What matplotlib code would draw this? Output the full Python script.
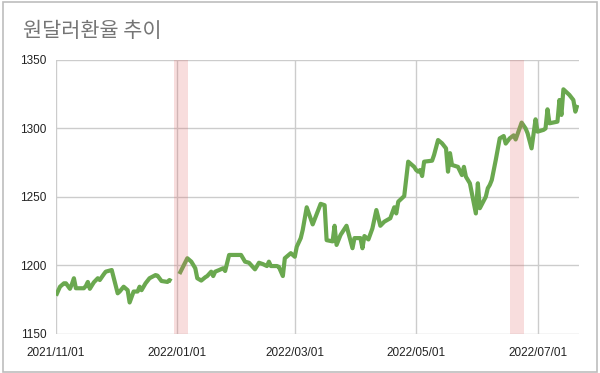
import matplotlib
matplotlib.use("Agg")
import matplotlib.pyplot as plt
import matplotlib.dates as mdates
import numpy as np
import pandas as pd
from matplotlib.patches import Rectangle

title = "원달러환율 추이"

dates = [
    "2021-11-01", "2021-11-03", "2021-11-05", "2021-11-06", "2021-11-08", "2021-11-09",
    "2021-11-10", "2021-11-11", "2021-11-15", "2021-11-16", "2021-11-17", "2021-11-18",
    "2021-11-20", "2021-11-22", "2021-11-23", "2021-11-25", "2021-11-26", "2021-11-29",
    "2021-12-02", "2021-12-03", "2021-12-05", "2021-12-07", "2021-12-08", "2021-12-10",
    "2021-12-12", "2021-12-13", "2021-12-14", "2021-12-16", "2021-12-18", "2021-12-21",
    "2021-12-22", "2021-12-24", "2021-12-27", "2021-12-28", "2021-12-29",
    "2021-12-31",
    "2022-01-02", "2022-01-06", "2022-01-08", "2022-01-10", "2022-01-11", "2022-01-13",
    "2022-01-15", "2022-01-16", "2022-01-18", "2022-01-19", "2022-01-20", "2022-01-22",
    "2022-01-24", "2022-01-25", "2022-01-27", "2022-01-31", "2022-02-02", "2022-02-04",
    "2022-02-06", "2022-02-09", "2022-02-11", "2022-02-13", "2022-02-15", "2022-02-16",
    "2022-02-17", "2022-02-20", "2022-02-21", "2022-02-23", "2022-02-24", "2022-02-27",
    "2022-03-01", "2022-03-02", "2022-03-04", "2022-03-05", "2022-03-07", "2022-03-10",
    "2022-03-12", "2022-03-14", "2022-03-16", "2022-03-17", "2022-03-20", "2022-03-21",
    "2022-03-22", "2022-03-24", "2022-03-27", "2022-03-30", "2022-03-31", "2022-04-03",
    "2022-04-04", "2022-04-05", "2022-04-07", "2022-04-09", "2022-04-11", "2022-04-13",
    "2022-04-15", "2022-04-18", "2022-04-20", "2022-04-21", "2022-04-22", "2022-04-25",
    "2022-04-27", "2022-04-30", "2022-05-01", "2022-05-02", "2022-05-03", "2022-05-04",
    "2022-05-05", "2022-05-09", "2022-05-10", "2022-05-12", "2022-05-14", "2022-05-16",
    "2022-05-17", "2022-05-18", "2022-05-19", "2022-05-22", "2022-05-24", "2022-05-25",
    "2022-05-26", "2022-05-28", "2022-05-31", "2022-06-01", "2022-06-02", "2022-06-05",
    "2022-06-06", "2022-06-07", "2022-06-08", "2022-06-10", "2022-06-12", "2022-06-14",
    "2022-06-15", "2022-06-17", "2022-06-19", "2022-06-20", "2022-06-23", "2022-06-25",
    "2022-06-26", "2022-06-28", "2022-06-30", "2022-07-01", "2022-07-04", "2022-07-05",
    "2022-07-06", "2022-07-07", "2022-07-11", "2022-07-12", "2022-07-13", "2022-07-14",
    "2022-07-17", "2022-07-19", "2022-07-20", "2022-07-21",
]

rates = [
    1178.0, 1184.5, 1187.0, 1187.0, 1183.0, 1186.4,
    1190.7, 1183.4, 1183.4, 1185.0, 1188.0, 1183.0,
    1187.7, 1190.7, 1189.4, 1193.6, 1195.5, 1196.7,
    1179.7, 1181.0, 1184.5, 1182.0, 1173.0, 1181.0,
    1181.0, 1184.5, 1182.0, 1187.0, 1190.7, 1193.0,
    1192.6, 1188.7, 1188.0, 1189.4, 1188.5,
    np.nan,
    1193.8, 1205.3, 1202.8, 1198.0, 1190.7, 1189.0,
    1191.4, 1192.3, 1195.5, 1192.3, 1195.5, 1196.7,
    1198.0, 1196.0, 1207.7, 1207.7, 1207.7, 1202.8,
    1202.0, 1197.2, 1202.0, 1201.0, 1199.6, 1202.8,
    1199.6, 1199.6, 1199.0, 1192.3, 1205.3, 1209.0,
    1206.4, 1213.7, 1220.0, 1226.0, 1242.5, 1230.0,
    1237.6, 1245.0, 1244.0, 1218.5, 1217.6, 1229.0,
    1215.0, 1222.3, 1229.0, 1212.6, 1220.0, 1220.0,
    1212.6, 1221.5, 1219.0, 1227.0, 1240.5, 1229.0,
    1232.0, 1234.5, 1242.5, 1238.0, 1246.6, 1250.7,
    1275.8, 1272.0, 1269.7, 1268.5, 1269.7, 1265.3,
    1275.8, 1276.5, 1280.7, 1291.6, 1289.2, 1285.5,
    1268.5, 1282.0, 1273.4, 1272.0, 1266.0, 1272.0,
    1264.8, 1260.0, 1238.0, 1260.0, 1241.8, 1250.2,
    1256.4, 1258.8, 1262.4, 1277.0, 1292.8, 1294.5,
    1289.0, 1292.8, 1295.0, 1292.0, 1304.3, 1300.0,
    1296.5, 1285.5, 1306.7, 1297.7, 1299.0, 1300.0,
    1314.0, 1303.8, 1305.0, 1320.8, 1309.9, 1328.6,
    1324.5, 1320.8, 1312.3, 1317.2,
]

x_ticks = ["2021-11-01", "2022-01-01", "2022-03-01", "2022-05-01", "2022-07-01"]
x_tick_labels = ["2021/11/01", "2022/01/01", "2022/03/01", "2022/05/01", "2022/07/01"]
y_ticks = [1150, 1200, 1250, 1300, 1350]
bands = [("2021-12-30 08:00", "2022-01-06 08:00"), ("2022-06-17", "2022-06-24 04:00")]
x_range = ("2021-11-01", "2022-07-21 20:00")

plt.rcParams['font.family'] = ['Liberation Sans', 'DejaVu Sans']

fig = plt.figure(figsize=(6.0, 3.73), dpi=100)
fig.patch.set_facecolor("white")
ax = fig.add_axes([56/600, 1 - 334/373, (579-56)/600, (334-60)/373])

d = pd.to_datetime(dates)
ax.plot(d, rates, color="#6aa84f", lw=3.0, solid_joinstyle="round",
        solid_capstyle="butt", zorder=3)

for a, b in bands:
    ax.axvspan(pd.Timestamp(a), pd.Timestamp(b), color="#e06666", alpha=0.22, lw=0, zorder=4)

ax.set_xlim(pd.Timestamp(x_range[0]), pd.Timestamp(x_range[1]))
ax.set_ylim(y_ticks[0], y_ticks[-1])
ax.set_yticks(y_ticks)
ax.set_yticklabels([str(v) for v in y_ticks])
ax.set_xticks(pd.to_datetime(x_ticks))
ax.set_xticklabels(x_tick_labels)

ax.grid(True, color="#cccccc", lw=1.0, zorder=0)
ax.set_axisbelow(True)
for s in ax.spines.values():
    s.set_visible(False)
ax.tick_params(axis="both", length=0, labelsize=8.5, labelcolor="#222222")
ax.tick_params(axis="y", pad=7)
ax.tick_params(axis="x", pad=9)

fig.text(23/600, 1 - 31/373, title, fontsize=15, color="#757575", va="center", ha="left",
         family=["Noto Sans CJK KR", "DejaVu Sans"])

fig.patches.append(Rectangle((3/600, 1/373), 594/600, 370/373, transform=fig.transFigure,
                             fill=False, edgecolor="#bdbdbd", lw=1.2))

fig.savefig("out.png", dpi=100)
